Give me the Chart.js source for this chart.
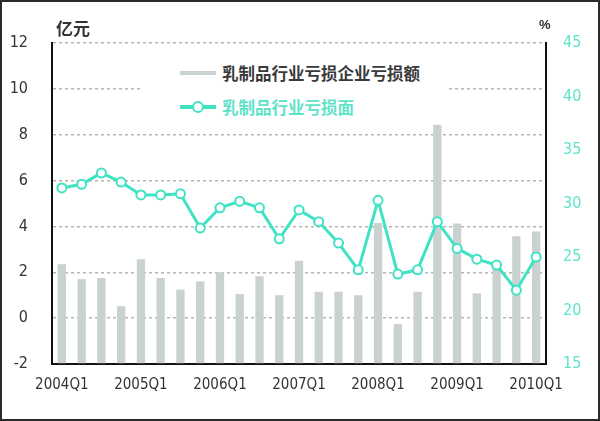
<!DOCTYPE html>
<html><head><meta charset="utf-8">
<script src="https://cdn.jsdelivr.net/npm/chart.js@4/dist/chart.umd.min.js"></script>
<style>
html,body{margin:0;padding:0;background:#fff;}
#wrap{position:relative;width:600px;height:421px;overflow:hidden;}
#frame{position:absolute;left:0;top:0;width:600px;height:421px;box-sizing:border-box;border:2px solid #2a2a2a;pointer-events:none;}
.unit{position:absolute;font-family:"Noto Sans CJK SC",sans-serif;color:#333;}
#legend{position:absolute;left:140px;top:52px;width:306px;height:72px;background:#fff;}
.lg{position:absolute;left:40px;height:20px;display:flex;align-items:center;font-family:"Noto Sans CJK SC",sans-serif;font-weight:700;font-size:16.5px;}
.sw{position:relative;width:36px;height:20px;margin-right:6px;}
</style></head>
<body><div id="wrap">
<canvas id="c" width="600" height="421"></canvas>
<div class="unit" style="left:56px;top:15px;font-size:17px;font-weight:700;">亿元</div>
<div class="unit" style="left:539px;top:17px;font-size:13px;font-family:'Liberation Sans Narrow',sans-serif;font-weight:700;">%</div>
<div id="legend">
 <div class="lg" style="top:11px;color:#3a3a3a;"><span class="sw"><span style="position:absolute;left:0;top:8px;width:36px;height:4px;background:#c9d1d1;"></span></span>乳制品行业亏损企业亏损额</div>
 <div class="lg" style="top:45px;color:#5ee3c9;"><span class="sw"><span style="position:absolute;left:0;top:8px;width:36px;height:4px;background:#3fe3c4;"></span><span style="position:absolute;left:12px;top:4px;width:8px;height:8px;border:2px solid #3fe3c4;border-radius:50%;background:#fff;"></span></span>乳制品行业亏损面</div>
</div>
<div id="frame"></div>
</div>
<script>
const categories = ["2004Q1","2004Q2","2004Q3","2004Q4","2005Q1","2005Q2","2005Q3","2005Q4","2006Q1","2006Q2","2006Q3","2006Q4","2007Q1","2007Q2","2007Q3","2007Q4","2008Q1","2008Q2","2008Q3","2008Q4","2009Q1","2009Q2","2009Q3","2009Q4","2010Q1"];
const lossAmount = [2.35,1.7,1.75,0.52,2.57,1.75,1.25,1.6,2.0,1.05,1.83,1.0,2.5,1.15,1.15,1.0,4.15,-0.26,1.15,8.43,4.13,1.08,2.2,3.57,3.78];
const lossRatio = [31.45,31.8,32.85,32.0,30.8,30.8,30.9,27.7,29.6,30.2,29.6,26.7,29.4,28.3,26.3,23.8,30.3,23.4,23.8,28.3,25.8,24.8,24.25,21.9,25.0];
const leftTicks = [-2,0,2,4,6,8,10,12];
const rightTicks = [15,20,25,30,35,40,45];

const teal = '#3fe3c4';
new Chart(document.getElementById('c'), {
  data: {
    labels: categories,
    datasets: [
      {type:'line', label:'乳制品行业亏损面', data: lossRatio, yAxisID:'yR', order:0,
       borderColor: teal, borderWidth:3, pointRadius:4.5, pointBorderWidth:2,
       pointBackgroundColor:'#fff', pointBorderColor: teal, tension:0},
      {type:'bar', label:'乳制品行业亏损企业亏损额', data: lossAmount, yAxisID:'yL', order:1,
       backgroundColor:'#c9d1d1', base: leftTicks[0], barPercentage:0.42, categoryPercentage:1.0}
    ]
  },
  options: {
    responsive:false, animation:false,
    layout:{padding:{top:43,left:0,right:0,bottom:0}},
    plugins:{legend:{display:false}, tooltip:{enabled:false}},
    scales:{
      x:{
        grid:{display:false, drawTicks:false},
        border:{display:true, color:'#111', width:2},
        ticks:{autoSkip:false, maxRotation:0, padding:12, color:'#333',
          font:{family:"'Liberation Sans Narrow','DejaVu Sans Condensed',sans-serif", size:15},
          callback:(v,i)=> i%4===0 ? categories[i] : ''},
        afterFit:(s)=>{s.height=57;}
      },
      yL:{
        position:'left', min:leftTicks[0], max:leftTicks[leftTicks.length-1],
        afterBuildTicks:(s)=>{s.ticks=leftTicks.map(v=>({value:v}));},
        grid:{color:'#b5b5b5', lineWidth:1.5, drawTicks:false},
        border:{display:true, color:'#111', width:2, dash:[3,3]},
        ticks:{padding:24, color:'#333', font:{family:"'Liberation Sans Narrow','DejaVu Sans Condensed',sans-serif", size:16}},
        afterFit:(s)=>{s.width=52;}
      },
      yR:{
        position:'right', min:rightTicks[0], max:rightTicks[rightTicks.length-1],
        afterBuildTicks:(s)=>{s.ticks=rightTicks.map(v=>({value:v}));},
        grid:{drawOnChartArea:false, drawTicks:false},
        border:{display:true, color:'#111', width:2},
        ticks:{padding:17, color:'#5ee3c9', font:{family:"'Liberation Sans Narrow','DejaVu Sans Condensed',sans-serif", size:16}},
        afterFit:(s)=>{s.width=54;}
      }
    }
  }
});
</script>
</body></html>
